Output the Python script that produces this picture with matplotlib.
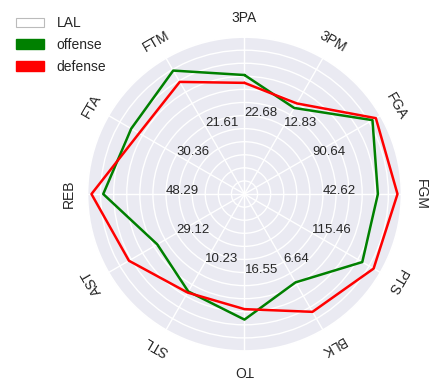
import numpy as np
import matplotlib
matplotlib.use("Agg")
import matplotlib.pyplot as plt
import matplotlib.patches as mpatches
import seaborn as sns

categories = ["3PA", "3PM", "FGA", "FGM", "PTS", "BLK", "TO", "STL", "AST", "REB", "FTA", "FTM"]
offense = [0.91, 0.76, 1.13, 1.02, 1.04, 0.78, 0.96, 0.86, 0.77, 1.08, 1.00, 1.09]
defense = [0.85, 0.80, 1.16, 1.17, 1.14, 1.04, 0.88, 0.87, 1.02, 1.17, 0.93, 0.99]
lal_values = [22.68, 12.83, 90.64, 42.62, 115.46, 6.64, 16.55, 10.23, 29.12, 48.29, 30.36, 21.61]
legend_labels = ["LAL", "offense", "defense"]

sns.set_theme(style="darkgrid")
plt.rcParams["font.family"] = ["Liberation Sans", "DejaVu Sans"]

fig = plt.figure(figsize=(4.37, 3.88), dpi=100)
ax = fig.add_axes([0.2002, 0.0954, 0.7185, 0.809], projection="polar")
ax.set_theta_offset(np.pi / 2)
ax.set_theta_direction(-1)

n = len(categories)
angles = np.arange(n) * 2 * np.pi / n
ang_closed = np.append(angles, angles[0])

ax.plot(ang_closed, np.append(offense, offense[0]), color="green", lw=1.8)
ax.plot(ang_closed, np.append(defense, defense[0]), color="red", lw=1.8)

ax.set_ylim(0, 1.2)
ax.set_yticks(np.arange(0.1, 1.2, 0.1))
ax.set_yticklabels([])
ax.set_xticks(angles)
ax.set_xticklabels([])
ax.grid(True, color="white", lw=1.0)

for a, cat in zip(angles, categories):
    ax.text(a, 1.345, cat, rotation=-np.degrees(a), rotation_mode="anchor",
            ha="center", va="center", fontsize=10, color="#262626", clip_on=False)

for a, v in zip(angles, lal_values):
    ax.text(a, 0.6, f"{v:.2f}", fontsize=9.5, color="#262626")

handles = [
    mpatches.Patch(facecolor="white", edgecolor="#bbbbbb", lw=0.8, label=legend_labels[0]),
    mpatches.Patch(facecolor="green", edgecolor="green", label=legend_labels[1]),
    mpatches.Patch(facecolor="red", edgecolor="red", label=legend_labels[2]),
]
fig.legend(handles=handles, loc="upper left", bbox_to_anchor=(0.025, 0.972),
           frameon=False, fontsize=10, borderaxespad=0, labelspacing=0.55,
           handletextpad=0.9)

fig.savefig("out.png", dpi=100)
